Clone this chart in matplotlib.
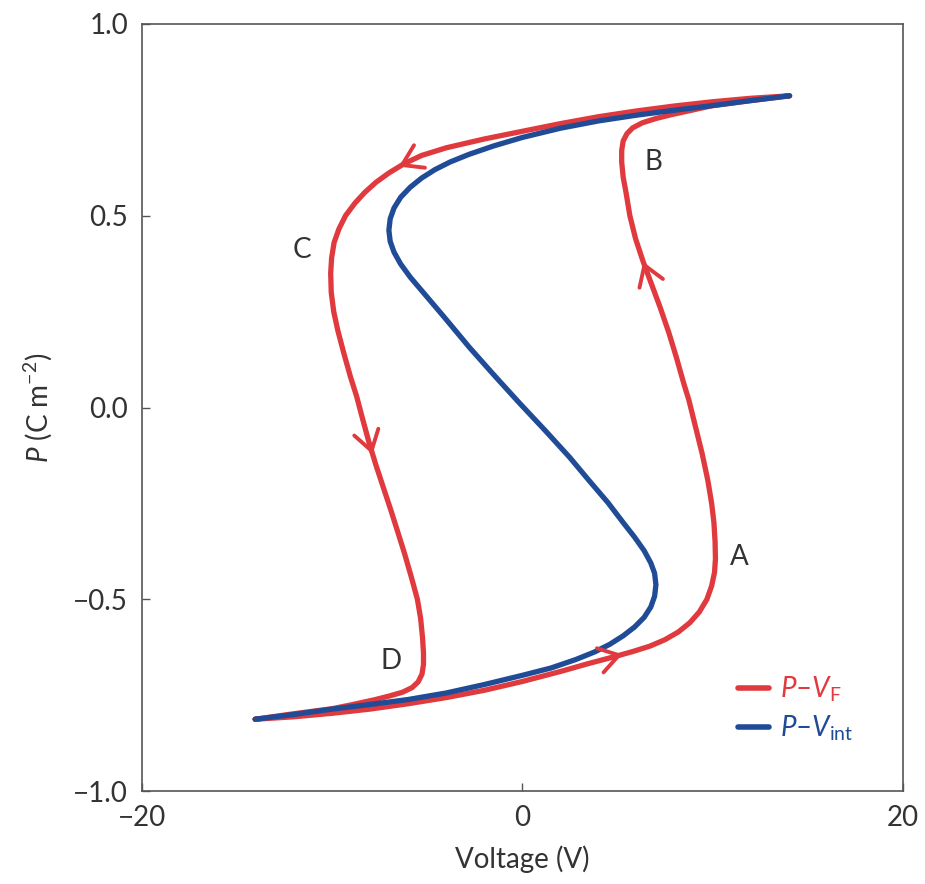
import matplotlib
matplotlib.use("Agg")
import matplotlib.pyplot as plt

plt.rcParams['font.family'] = ['Lato', 'DejaVu Sans']
plt.rcParams['mathtext.fontset'] = 'custom'
plt.rcParams['mathtext.rm'] = 'Lato'
plt.rcParams['mathtext.it'] = 'Lato:italic'

# P-V_int curve (voltage V, polarisation C m^-2)
vint_v = [-14.05, -12.0, -10.0, -8.0, -6.0, -4.0, -2.0, 0.0, 1.5, 2.8, 3.8, 4.6, 5.3,
          5.9, 6.4, 6.75, 6.95, 7.02, 6.95, 6.75, 6.4, 5.9, 5.3, 4.5, 3.5, 2.47, 1.2,
          -0.16, -1.5, -2.79, -4.1, -5.3, -5.9, -6.4, -6.75, -6.95, -7.02, -6.95, -6.75,
          -6.4, -5.9, -5.3, -4.6, -3.8, -2.8, -1.5, 0.0, 2.0, 4.0, 6.0, 8.0, 10.0, 12.0,
          14.05]
vint_p = [-0.8125, -0.800, -0.786, -0.774, -0.761, -0.744, -0.722, -0.698, -0.679, -0.657,
          -0.637, -0.617, -0.595, -0.572, -0.547, -0.520, -0.492, -0.462, -0.432, -0.405,
          -0.373, -0.338, -0.300, -0.248, -0.190, -0.129, -0.060, 0.012, 0.085, 0.157,
          0.235, 0.305, 0.340, 0.374, 0.405, 0.433, 0.462, 0.492, 0.520, 0.548, 0.574,
          0.598, 0.620, 0.640, 0.660, 0.682, 0.704, 0.728, 0.747, 0.762, 0.775, 0.787,
          0.800, 0.8125]

# P-V_F loop, going up on the right then back down on the left
vf_v = [-14.05, -12.0, -10.0, -8.0, -6.0, -4.0, -2.0, 0.0, 2.0, 3.5, 4.8, 5.8, 6.7,
        7.5, 8.2, 8.8, 9.3, 9.7, 9.95, 10.1, 10.15, 10.13, 10.07, 9.95, 9.75, 9.45,
        9.1, 8.75, 8.5, 8.1, 7.7, 7.25, 6.8, 6.35, 5.95, 5.65, 5.45, 5.3, 5.22, 5.22,
        5.3, 5.5, 5.8, 6.3, 7.0, 7.8, 9.0, 10.0, 12.0, 14.05,
        12.0, 10.0, 8.0, 6.0, 4.0, 2.0, 0.0, -2.0, -4.0, -5.3, -6.2, -7.0, -7.7, -8.3,
        -8.8, -9.3, -9.65, -9.9, -10.03, -10.08, -10.05, -9.92, -9.7, -9.38, -9.04,
        -8.72, -8.4, -8.07, -7.7, -7.3, -6.9, -6.58, -6.2, -5.85, -5.52, -5.35, -5.25,
        -5.2, -5.2, -5.28, -5.48, -5.8, -6.3, -7.0, -7.8, -9.0, -10.0, -12.0, -14.05]
vf_p = [-0.8125, -0.806, -0.797, -0.786, -0.772, -0.756, -0.737, -0.714, -0.688, -0.667,
        -0.650, -0.636, -0.622, -0.605, -0.585, -0.561, -0.533, -0.500, -0.465, -0.430,
        -0.395, -0.350, -0.300, -0.250, -0.190, -0.120, -0.050, 0.020, 0.060, 0.130,
        0.195, 0.260, 0.320, 0.380, 0.440, 0.500, 0.560, 0.600, 0.640, 0.670, 0.695,
        0.714, 0.729, 0.742, 0.753, 0.763, 0.776, 0.787, 0.800, 0.8125,
        0.806, 0.797, 0.786, 0.773, 0.758, 0.740, 0.720, 0.700, 0.677, 0.657, 0.636,
        0.612, 0.587, 0.560, 0.533, 0.500, 0.465, 0.430, 0.390, 0.350, 0.300, 0.250,
        0.200, 0.140, 0.080, 0.030, -0.030, -0.090, -0.150, -0.210, -0.270, -0.320,
        -0.380, -0.440, -0.500, -0.550, -0.600, -0.640, -0.670, -0.695, -0.715, -0.730,
        -0.742, -0.752, -0.762, -0.775, -0.785, -0.798, -0.8125]

# direction arrows on the P-V_F loop: (tail, tip)
arrow_tails = [(3.5, -0.667), (6.8, 0.32), (-5.3, 0.657), (-8.4, -0.03)]
arrow_tips = [(5.26, -0.643), (6.35, 0.38), (-6.5, 0.628), (-7.88, -0.122)]

point_labels = ['A', 'B', 'C', 'D']
label_v = [11.4, 6.9, -11.6, -6.9]
label_p = [-0.39, 0.64, 0.41, -0.66]

red = '#e03a3e'
blue = '#1f4b97'
grey = '#333333'

fig = plt.figure(figsize=(9.25, 8.84), dpi=100)
ax = fig.add_axes([0.1535, 0.105, 0.8225, 0.868])

ax.plot(vf_v, vf_p, color=red, lw=3.8, solid_capstyle='round', solid_joinstyle='round',
        label=r'$P$–$V_{\rm F}$', zorder=2)
ax.plot(vint_v, vint_p, color=blue, lw=3.8, solid_capstyle='round', solid_joinstyle='round',
        label=r'$P$–$V_{\rm int}$', zorder=3)

for tail, tip in zip(arrow_tails, arrow_tips):
    ax.annotate('', xy=tip, xytext=tail,
                arrowprops=dict(arrowstyle='->,head_length=0.7,head_width=0.45',
                                color=red, lw=2.8, mutation_scale=20,
                                shrinkA=0, shrinkB=0), zorder=4)

for s, v, p in zip(point_labels, label_v, label_p):
    ax.text(v, p, s, fontsize=20, color=grey, ha='center', va='center')

ax.set_xlim(-20, 20)
ax.set_ylim(-1.0, 1.0)
ax.set_xticks([-20, 0, 20])
ax.set_yticks([-1.0, -0.5, 0.0, 0.5, 1.0])
ax.tick_params(direction='in', length=6, width=1.0, color='#555555', labelsize=20,
               labelcolor=grey)
ax.tick_params(axis='x', pad=10)
ax.tick_params(axis='y', pad=10)
for sp in ax.spines.values():
    sp.set_color('#555555')
    sp.set_linewidth(1.2)

ax.set_xlabel('Voltage (V)', fontsize=20, color=grey, labelpad=10)
ax.set_ylabel(r'$P$ (C m$^{-2}$)', fontsize=20, color=grey, labelpad=14)

leg = ax.legend(loc='lower right', bbox_to_anchor=(0.968, 0.03), frameon=False,
                fontsize=20, handlelength=1.1, handletextpad=0.4, labelspacing=0.35,
                labelcolor='linecolor')
for line in leg.get_lines():
    line.set_linewidth(4)

fig.savefig('out.png', dpi=100)
